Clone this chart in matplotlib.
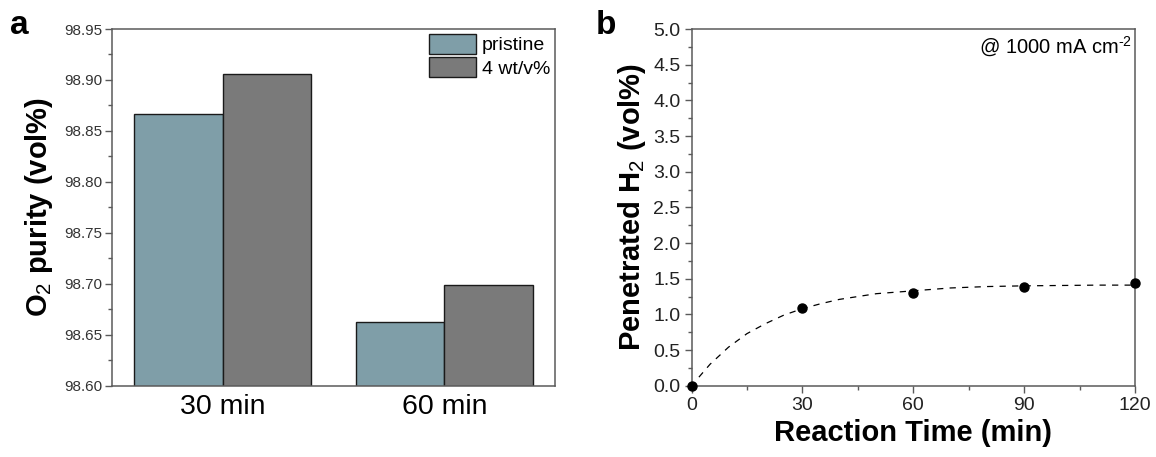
import numpy as np
import matplotlib
matplotlib.use('Agg')
import matplotlib.pyplot as plt
from matplotlib.ticker import MultipleLocator

plt.rcParams['font.family'] = ['Liberation Sans', 'DejaVu Sans']
plt.rcParams['mathtext.fontset'] = 'custom'
plt.rcParams['mathtext.rm'] = 'Liberation Sans'
plt.rcParams['mathtext.bf'] = 'Liberation Sans:bold'

#   Panel a - O2 purity
categories = ['30 min', '60 min']
series_names = ['pristine', '4 wt/v%']
pristine = [98.867, 98.663]
loaded = [98.906, 98.699]

#   Panel b - penetrated H2
time_pts = [0, 30, 60, 90, 120]
h2_pts = [0.0, 1.095, 1.30, 1.385, 1.44]
#   dashed fit line
fit_t = [2, 5, 10, 15, 20, 25, 30, 35, 40, 45, 50, 55, 60, 70, 80, 90, 100, 110, 120]
fit_h2 = [0.12, 0.30, 0.54, 0.73, 0.87, 0.99, 1.08, 1.15, 1.21, 1.25, 1.29, 1.31, 1.33,
          1.37, 1.39, 1.40, 1.405, 1.41, 1.41]

spine_col = '#5a5a5a'

fig = plt.figure(figsize=(11.56, 4.57), dpi=100)
ax1 = fig.add_axes([0.0966, 0.156, 0.3837, 0.7805])
ax2 = fig.add_axes([0.5982, 0.156, 0.3837, 0.7805])

#   Bars
x = np.arange(len(categories))
w = 0.4
ax1.bar(x - w / 2, pristine, w, color='#7f9ea8', edgecolor='#1a1a1a', linewidth=1.0,
        label=series_names[0])
ax1.bar(x + w / 2, loaded, w, color='#7a7a7a', edgecolor='#1a1a1a', linewidth=1.0,
        label=series_names[1])
ax1.set_xlim(-0.5, 1.5)
ax1.set_ylim(98.60, 98.95)
ax1.set_xticks(x)
ax1.set_xticklabels(categories, fontsize=20.5)
ax1.yaxis.set_major_locator(MultipleLocator(0.05))
ax1.yaxis.set_minor_locator(MultipleLocator(0.025))
ax1.yaxis.set_major_formatter(matplotlib.ticker.FormatStrFormatter('%.2f'))
ax1.tick_params(axis='y', which='major', direction='out', length=5, width=1,
                color=spine_col, labelsize=11, labelcolor='#333333', pad=2)
ax1.tick_params(axis='y', which='minor', direction='out', length=3, width=1, color=spine_col)
ax1.tick_params(axis='x', length=0, pad=6)
ax1.set_ylabel('O$_2$ purity (vol%)', fontsize=21, fontweight='bold', labelpad=6)
leg = ax1.legend(loc='upper right', frameon=False, fontsize=14, handlelength=2.4,
                 handleheight=1.2, labelspacing=0.15, handletextpad=0.3,
                 borderaxespad=0.15, borderpad=0.1)

#   Scatter and fit line
ax2.plot(fit_t, fit_h2, color='black', linestyle=(0, (5, 5)), linewidth=0.9)
ax2.plot(time_pts, h2_pts, 'o', color='black', markersize=6.5, clip_on=False, zorder=5)
ax2.set_xlim(0, 120)
ax2.set_ylim(0, 5.0)
ax2.xaxis.set_major_locator(MultipleLocator(30))
ax2.xaxis.set_minor_locator(MultipleLocator(15))
ax2.yaxis.set_major_locator(MultipleLocator(0.5))
ax2.yaxis.set_minor_locator(MultipleLocator(0.25))
ax2.yaxis.set_major_formatter(matplotlib.ticker.FormatStrFormatter('%.1f'))
ax2.tick_params(which='major', direction='out', length=5, width=1, color=spine_col,
                labelsize=14, labelcolor='#222222', pad=3)
ax2.tick_params(which='minor', direction='out', length=3, width=1, color=spine_col)
ax2.set_xlabel('Reaction Time (min)', fontsize=21, fontweight='bold', labelpad=4)
ax2.set_ylabel('Penetrated H$_2$ (vol%)', fontsize=21, fontweight='bold', labelpad=4)
ax2.text(0.992, 0.985, '@ 1000 mA cm$^{\\text{-2}}$', transform=ax2.transAxes, ha='right',
         va='top', fontsize=14.5)

for ax in (ax1, ax2):
    for s in ax.spines.values():
        s.set_color(spine_col)
        s.set_linewidth(1.1)

#   Panel letters
fig.text(0.009, 0.925, 'a', fontsize=24, fontweight='bold')
fig.text(0.515, 0.925, 'b', fontsize=24, fontweight='bold')

fig.savefig('out.png', dpi=100)
